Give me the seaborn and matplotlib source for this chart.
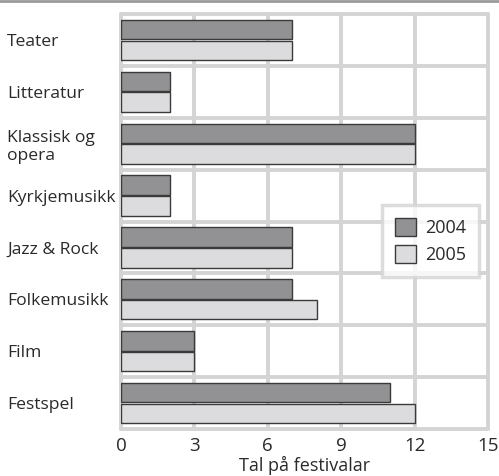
import pandas as pd
import numpy as np
import matplotlib
matplotlib.use('Agg')
import matplotlib.pyplot as plt
from matplotlib.lines import Line2D
import seaborn as sns

categories = ['Teater', 'Litteratur', 'Klassisk og\nopera', 'Kyrkjemusikk',
              'Jazz & Rock', 'Folkemusikk', 'Film', 'Festspel']
values_2004 = [7, 2, 12, 2, 7, 7, 3, 11]
values_2005 = [7, 2, 12, 2, 7, 8, 3, 12]
years = ['2004', '2005']

data = pd.DataFrame({
    'kategori': categories * 2,
    'tal': values_2004 + values_2005,
    'år': [years[0]] * len(categories) + [years[1]] * len(categories),
})

sns.set_style('white')
plt.rcParams['font.family'] = ['Open Sans', 'DejaVu Sans']

fig = plt.figure(figsize=(4.99, 4.76), dpi=100)
ax = fig.add_axes([121 / 499, 47 / 476, 367 / 499, 415 / 476])

grid_col = '#d4d4d4'
text_col = '#2a2a2a'
sns.barplot(data=data, x='tal', y='kategori', hue='år', orient='h',
            palette=['#919195', '#dcdcde'], edgecolor='#3a3a3a', linewidth=1.0,
            width=0.8, gap=0.06, ax=ax, zorder=3)

ax.set_xlim(0, 15)
ax.set_ylim(len(categories) - 0.5, -0.5)
ax.set_xticks(np.arange(0, 16, 3))
ax.set_yticks(np.arange(len(categories)))
ax.set_yticks(np.arange(len(categories) + 1) - 0.5, minor=True)

ax.grid(True, axis='x', which='major', color=grid_col, linewidth=2.8, zorder=0)
ax.grid(True, axis='y', which='minor', color=grid_col, linewidth=2.8, zorder=0)
ax.grid(False, axis='y', which='major')
ax.set_axisbelow(True)
grid_lines = [t.gridline for t in ax.xaxis.get_major_ticks()]
grid_lines += [t.gridline for t in ax.yaxis.get_minor_ticks()]
for line in grid_lines:
    line.set_clip_on(False)

for s in ax.spines.values():
    s.set_visible(False)

ax.tick_params(axis='both', which='both', length=0)
ax.tick_params(axis='x', labelsize=13.5, pad=6, colors=text_col)
ax.tick_params(axis='y', labelsize=12.6, pad=82, colors=text_col)
for lab in ax.get_yticklabels():
    lab.set_horizontalalignment('left')

ax.set_ylabel('')
ax.set_xlabel('Tal på festivalar', fontsize=13, color=text_col, labelpad=0.5)

leg = ax.legend(loc='upper right', bbox_to_anchor=(0.975, 0.54), fontsize=13,
                frameon=True, fancybox=False, edgecolor=grid_col,
                handlelength=1.17, handleheight=1.17, handletextpad=0.5,
                borderpad=0.7, borderaxespad=0, labelspacing=0.45)
leg.get_frame().set_linewidth(2.5)
for t in leg.get_texts():
    t.set_color(text_col)

fig.add_artist(Line2D([0, 1], [1 - 1 / 476, 1 - 1 / 476], transform=fig.transFigure,
                      color='#9a9a9a', linewidth=2))

fig.savefig('out.png', dpi=100)
